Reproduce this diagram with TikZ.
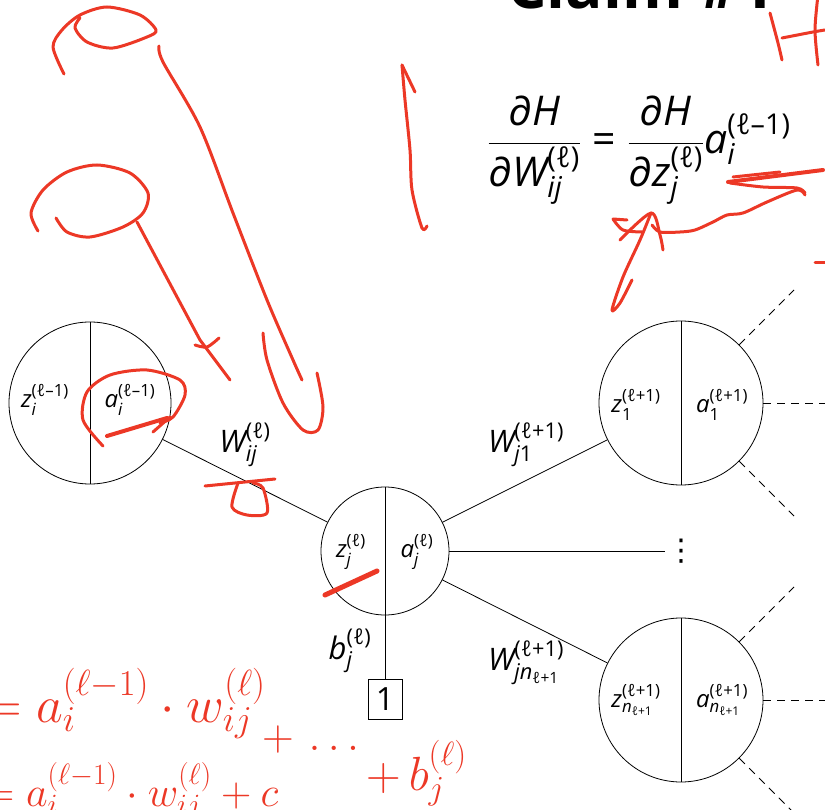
\RequirePackage{fix-cm}
\documentclass[tikz,border=0pt]{standalone}
\usepackage{amsmath}
\usepackage{fontspec}
\setmainfont{Open Sans}
\newfontfamily\djv{DejaVu Sans}
\definecolor{hand}{RGB}{236,56,38}
\newcommand\iv[1]{\text{\itshape #1}}
\newcommand\pd{\text{\itshape ∂}}
\tikzset{
  neuron/.style={circle, draw, line width=0.8pt, minimum size=#1, inner sep=0pt},
  wire/.style={line width=0.8pt},
  dwire/.style={line width=0.8pt, dash pattern=on 8pt off 6pt},
  clab/.style={font=\fontsize{24}{28}\selectfont, inner sep=0pt},
  wlab/.style={font=\fontsize{31}{36}\selectfont, inner sep=0pt},
  onebox/.style={draw, line width=0.8pt, minimum width=34pt, minimum height=40pt, inner sep=0pt, font=\fontsize{32}{36}\selectfont},
  hand/.style={draw=hand, line width=3pt, line cap=round, line join=round},
  handtext/.style={text=hand, inner sep=0pt}
}
\begin{document}
\begin{tikzpicture}[x=1pt,y=-1pt]
\useasboundingbox (0,0) rectangle (825,810);
\clip (0,0) rectangle (825,810);

% title (cut off at top)
\node[anchor=south, font=\fontsize{62}{66}\selectfont\bfseries, inner sep=0pt] (title) at (641,9) {Claim \#1};

% equation
\node[font=\fontsize{41}{46}\selectfont, inner sep=0pt] (eq) at (639,150)
 {$\dfrac{\pd\iv{H}}{\pd\iv{W}^{\text{(ℓ)}}_{\iv{ij}}} \mathrel{\text{=}} \dfrac{\pd\iv{H}}{\pd\iv{z}^{\text{(ℓ)}}_{\iv{j}}}\iv{a}^{\text{(ℓ–1)}}_{\iv{i}}$};

% neurons
\node[neuron=162pt] (L) at (90,403) {};
\node[neuron=128pt] (M) at (385,551) {};
\node[neuron=164pt] (T) at (681,403) {};
\node[neuron=164pt] (B) at (681,700) {};
\foreach \n in {L,M,T,B} \draw[wire] (\n.north) -- (\n.south);

\node[clab] (Lz) at (45,400) {$\iv{z}^{\text{(ℓ–1)}}_{\iv{i}}$};
\node[clab] (La) at (130,400) {$\iv{a}^{\text{(ℓ–1)}}_{\iv{i}}$};
\node[clab] (Mz) at (351,552) {$\iv{z}^{\text{(ℓ)}}_{\iv{j}}$};
\node[clab] (Ma) at (417,552) {$\iv{a}^{\text{(ℓ)}}_{\iv{j}}$};
\node[clab] (Tz) at (636,405) {$\iv{z}^{\text{(ℓ+1)}}_{\text{1}}$};
\node[clab] (Ta) at (722,405) {$\iv{a}^{\text{(ℓ+1)}}_{\text{1}}$};
\node[clab] (Bz) at (636,700) {$\iv{z}^{\text{(ℓ+1)}}_{\iv{n}_{\text{ℓ+1}}}$};
\node[clab] (Ba) at (722,700) {$\iv{a}^{\text{(ℓ+1)}}_{\iv{n}_{\text{ℓ+1}}}$};

\node[onebox] (one) at (385,699) {1};
\node[font=\fontsize{30}{34}\selectfont\djv, inner sep=0pt] (dots) at (681,551) {⋮};

% connectors
\draw[wire] (L) -- (M);
\draw[wire] (M) -- (T);
\draw[wire] (M) -- (B);
\draw[wire] (M.east) -- (665,551);
\draw[wire] (M.south) -- (one.north);

% dashed outgoing
\coordinate (T1) at (794,290);
\coordinate (T2) at (825,403);
\coordinate (T3) at (794,516);
\coordinate (B1) at (794,587);
\coordinate (B2) at (825,700);
\coordinate (B3) at (794,813);
\draw[dwire] (T.45) -- (T1);
\draw[dwire] (T.east) -- (T2);
\draw[dwire] (T.-45) -- (T3);
\draw[dwire] (B.45) -- (B1);
\draw[dwire] (B.east) -- (B2);
\draw[dwire] (B.-45) -- (B3);

% weight labels
\node[wlab] (wij) at (245,445) {$\iv{W}^{\text{(ℓ)}}_{\iv{ij}}$};
\node[wlab] (wj1) at (526,445) {$\iv{W}^{\text{(ℓ+1)}}_{\iv{j}\text{1}}$};
\node[wlab] (wjn) at (526,663) {$\iv{W}^{\text{(ℓ+1)}}_{\iv{j}\iv{n}_{\text{ℓ+1}}}$};
\node[wlab] (bj) at (350,651) {$\iv{b}^{\text{(ℓ)}}_{\iv{j}}$};

% ---- red handwriting ----
\draw[hand] plot[smooth] coordinates {(64,74) (53,47) (62,30) (80,15) (107,7) (140,15) (156,30) (147,37) (113,48) (87,42) (75,28) (80,18)};
\draw[hand] plot[smooth] coordinates {(159,46) (163,62) (200,127) (233,213) (267,300) (293,360) (302,380)};
\draw[hand] plot[smooth] coordinates {(263,333) (267,360) (283,403) (303,430) (318,430) (323,407) (317,373)};
\draw[hand] plot[smooth] coordinates {(38,231) (31,213) (43,190) (67,172) (97,165) (130,173) (148,193) (143,213) (123,227) (90,237) (67,232) (56,218)};
\draw[hand] (137,222) -- (200,340) -- (230,380);
\draw[hand] plot[smooth] coordinates {(195,345) (207,347) (219,338)};
\draw[hand] plot[smooth] coordinates {(402,65) (405,100) (410,150) (412,190) (422,228) (427,226)};
\draw[hand] (402,65) -- (415,92);
\draw[hand] plot[smooth] coordinates {(770,13) (778,43) (782,60)};
\draw[hand] plot[smooth] coordinates {(782,38) (813,32) (825,30)};
\draw[hand] plot[smooth] coordinates {(818,-5) (815,30) (818,65)};
\draw[hand] (815,263) -- (825,263);
% scribble under a_i
\draw[hand, line width=4pt] (728,182) -- (823,170);
\draw[hand] (733,177) -- (780,172);
\draw[hand] plot[smooth] coordinates {(730,183) (763,187) (797,188) (805,193)};
\draw[hand] plot[smooth] coordinates {(805,195) (797,190) (767,202) (743,213) (727,215) (713,222) (695,230) (680,232) (660,232) (652,225)};
\draw[hand] (613,219) -- (627,220);
\draw[hand] plot[smooth] coordinates {(613,219) (623,230) (642,232)};
\draw[hand] plot[smooth] coordinates {(620,240) (651,213) (660,235) (663,250)};
\draw[hand] plot[smooth] coordinates {(651,213) (640,240) (623,277) (612,310) (620,303) (632,280)};
% circle around a_i
\draw[hand] plot[smooth] coordinates {(103,446) (83,420) (87,392) (110,375) (147,370) (180,380) (185,395) (173,417) (160,423)};
\draw[hand, line width=4pt] (107,436) -- (167,418);
\draw[hand] (153,432) -- (170,417);
% under W_ij
\draw[hand] (205,486) -- (275,479);
\draw[hand] plot[smooth] coordinates {(238,483) (232,507) (247,515) (267,513) (263,488) (253,483)};
% z_j stroke
\draw[hand, line width=5pt] (325,595) -- (377,571);

% handwritten formulas
\node[handtext, anchor=base west, font=\fontsize{52}{56}\selectfont] (h1) at (-16,722) {$= a_{i}^{(\ell-1)}\cdot w_{ij}^{(\ell)}$};
\node[handtext, anchor=base west, font=\fontsize{44}{48}\selectfont] (h2a) at (262,750) {$+\,\ldots$};
\node[handtext, anchor=base west, font=\fontsize{48}{52}\selectfont] (h2b) at (366,790) {$+\,b_j^{(\ell)}$};
\node[handtext, anchor=base west, font=\fontsize{42}{46}\selectfont] (h3) at (-16,806) {$= a_{i}^{(\ell-1)}\cdot w_{ij}^{(\ell)} + c$};
\end{tikzpicture}
\end{document}
